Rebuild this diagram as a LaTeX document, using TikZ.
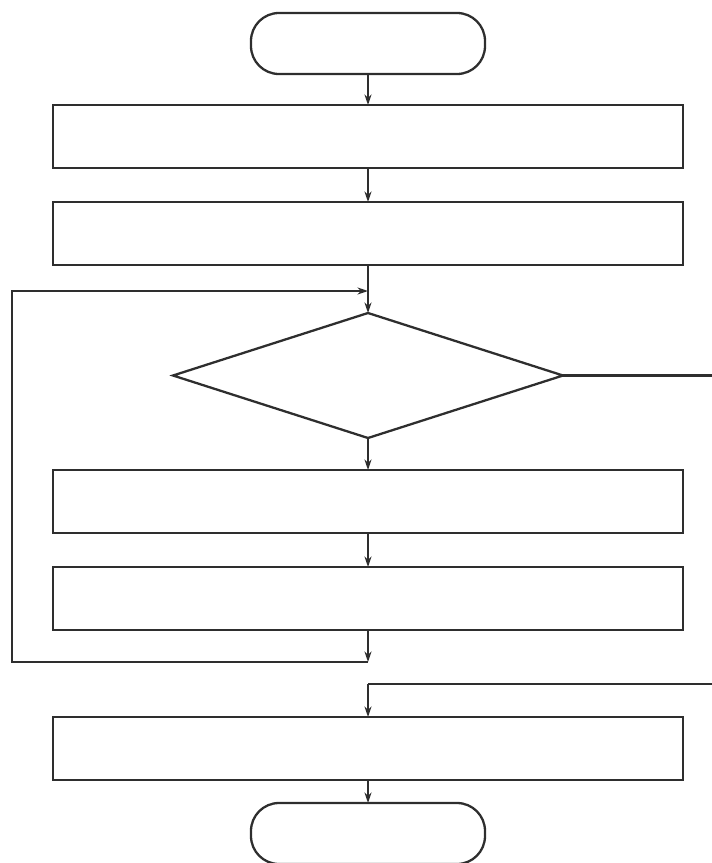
\documentclass[tikz,border=0pt]{standalone}
\usepackage{xcolor}
\usepackage{tikz}
\usetikzlibrary{arrows.meta,positioning,shapes.geometric}
\definecolor{inkline}{HTML}{2E2E2E}

\begin{document}
\begin{tikzpicture}[
  line width=1.3pt, inkline,
  term/.style={draw, rounded corners=0.56cm, minimum width=4.68cm, minimum height=1.22cm, inner sep=0pt, outer sep=0pt},
  proc/.style={draw, minimum width=12.6cm, minimum height=1.26cm, inner sep=0pt, outer sep=0pt},
  cond/.style={draw, diamond, aspect=3.17, minimum width=7.8cm, minimum height=2.5cm, inner sep=0pt, outer sep=0pt},
  arr/.style={-{Stealth[length=6pt, width=4pt]}}
]
  \useasboundingbox (0,0) rectangle (14.24,-17.26);

  \node[term] (start) at (7.36,-0.87) {};
  \node[proc, below=0.62cm of start] (p1) {};
  \node[proc, below=0.68cm of p1] (p2) {};
  \node[cond, below=0.96cm of p2] (test) {};
  \node[proc, below=0.64cm of test] (p3) {};
  \node[proc, below=0.68cm of p3] (p4) {};
  \node[proc, below=1.74cm of p4] (p5) {};
  \node[term, below=0.46cm of p5] (stop) {};

  % loop and branch points
  \coordinate[below=0.52cm of p2] (join);
  \coordinate[below=0.64cm of p4] (back);
  \coordinate[above=0.66cm of p5] (exit);
  \coordinate (leftx) at (0.24,0);
  \coordinate (rightx) at (14.32,0);

  \draw[arr] (start) -- (p1);
  \draw[arr] (p1) -- (p2);
  \draw (p2) -- (join);
  \draw[arr] (join) -- (test);
  \draw[arr] (test) -- (p3);
  \draw[arr] (p3) -- (p4);
  \draw[arr] (p4) -- (back);
  \draw[arr] (back) -- (back -| leftx) |- (join);
  \draw (test.east) -- (test.east -| rightx) |- (exit);
  \draw[arr] (exit) -- (p5);
  \draw[arr] (p5) -- (stop);
\end{tikzpicture}
\end{document}
